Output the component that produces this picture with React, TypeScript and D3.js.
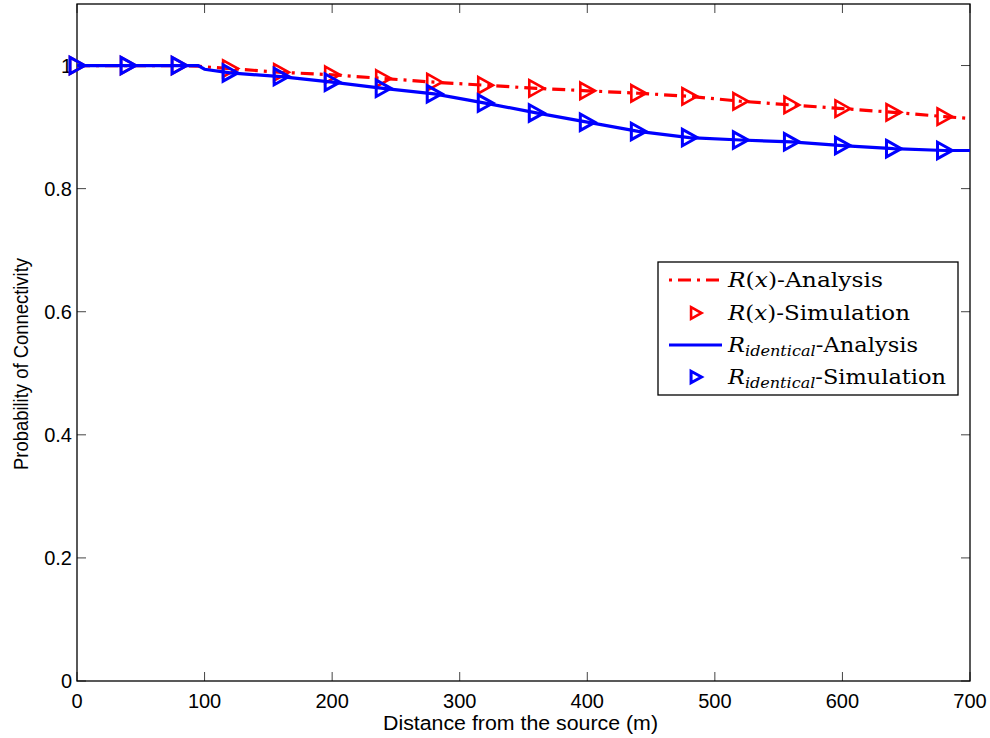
import React from "react";
import * as d3 from "d3";

// distances (m) for the simulation markers
const simX = [0, 40, 80, 120, 160, 200, 240, 280, 320, 360, 400, 440, 480, 520, 560, 600, 640, 680];
const redSim = [1, 1, 1, 0.995, 0.989, 0.985, 0.979, 0.973, 0.968, 0.963, 0.959, 0.955, 0.95, 0.942, 0.936, 0.93, 0.924, 0.917];
const blueSim = [1, 1, 1, 0.988, 0.982, 0.973, 0.963, 0.954, 0.939, 0.923, 0.908, 0.893, 0.883, 0.879, 0.876, 0.87, 0.865, 0.862];

// analysis curves
const anaX = [0, 40, 80, 95, 100, 120, 160, 200, 240, 280, 320, 360, 400, 440, 480, 520, 560, 600, 640, 680, 700];
const redAna = [1, 1, 1, 0.999, 0.998, 0.995, 0.989, 0.985, 0.979, 0.973, 0.968, 0.963, 0.959, 0.955, 0.95, 0.942, 0.936, 0.93, 0.924, 0.917, 0.914];
const blueAna = [1, 1, 1, 1, 0.994, 0.988, 0.982, 0.973, 0.963, 0.954, 0.939, 0.923, 0.908, 0.893, 0.883, 0.879, 0.876, 0.87, 0.865, 0.862, 0.862];

const xTicks = [0, 100, 200, 300, 400, 500, 600, 700];
const yTicks = [0, 0.2, 0.4, 0.6, 0.8, 1];

const W = 990, H = 738;
const L = 77, R = 970, T = 4, B = 681;

const RED = "#ff0000";
const BLUE = "#0000ff";

export default function App() {
  const x = d3.scaleLinear().domain([0, 700]).range([L, R]);
  const y = d3.scaleLinear().domain([0, 1.1]).range([B, T]);

  const line = d3.line<[number, number]>().x(d => x(d[0])).y(d => y(d[1]));
  const redPts = anaX.map((v, i) => [v, redAna[i]] as [number, number]);
  const bluePts = anaX.map((v, i) => [v, blueAna[i]] as [number, number]);

  // right pointing triangle
  const tri = (cx: number, cy: number, s = 8.2) =>
    `M${cx - s * 0.85},${cy - s} L${cx + s * 0.95},${cy} L${cx - s * 0.85},${cy + s} Z`;

  const tickFont = { fontFamily: "Liberation Sans, Arial, sans-serif", fontSize: 20 };
  const legFont = "DejaVu Serif, serif";

  const lx = 658, ly = 262, lw = 300, lh = 133;
  const rows = [280, 313, 345, 377];

  return (
    <svg width={W} height={H} style={{ position: "absolute", left: 0, top: 0 }}>
      <rect x={0} y={0} width={W} height={H} fill="#fff" />
      <defs>
        <clipPath id="plot">
          <rect x={L} y={T} width={R - L} height={B - T} />
        </clipPath>
      </defs>

      {/* ticks */}
      {xTicks.map(t => (
        <g key={"x" + t}>
          <line x1={x(t)} x2={x(t)} y1={B} y2={B - 9} stroke="#444" />
          <line x1={x(t)} x2={x(t)} y1={T} y2={T + 9} stroke="#444" />
          <text x={x(t)} y={708} textAnchor="middle" {...tickFont}>{t}</text>
        </g>
      ))}
      {yTicks.map(t => (
        <g key={"y" + t}>
          <line x1={L} x2={L + 9} y1={y(t)} y2={y(t)} stroke="#444" />
          <line x1={R} x2={R - 9} y1={y(t)} y2={y(t)} stroke="#444" />
          <text x={72} y={y(t) + 7} textAnchor="end" {...tickFont}>{t}</text>
        </g>
      ))}

      <rect x={L} y={T} width={R - L} height={B - T} fill="none" stroke="#000" strokeWidth={1.3} />

      {/* series */}
      <g clipPath="url(#plot)">
        <path d={line(redPts) || ""} fill="none" stroke={RED} strokeWidth={3.2} strokeDasharray="13 6 3 6" />
      </g>
      {simX.map((v, i) => (
        <path key={"r" + i} d={tri(x(v), y(redSim[i]))} fill="none" stroke={RED} strokeWidth={2.6} />
      ))}
      <g clipPath="url(#plot)">
        <path d={line(bluePts) || ""} fill="none" stroke={BLUE} strokeWidth={3.2} />
      </g>
      {simX.map((v, i) => (
        <path key={"b" + i} d={tri(x(v), y(blueSim[i]))} fill="none" stroke={BLUE} strokeWidth={3} />
      ))}

      {/* axis labels */}
      <text x={(L + R) / 2 - 3} y={730} textAnchor="middle" textLength={275} lengthAdjust="spacingAndGlyphs" {...tickFont}>
        Distance from the source (m)
      </text>
      <text transform={`translate(28,${364}) rotate(-90)`} textAnchor="middle" textLength={212} lengthAdjust="spacingAndGlyphs" {...tickFont}>
        Probability of Connectivity
      </text>

      {/* legend */}
      <rect x={lx} y={ly} width={lw} height={lh} fill="#fff" stroke="#000" strokeWidth={1.3} />
      <line x1={669} x2={722} y1={rows[0]} y2={rows[0]} stroke={RED} strokeWidth={3.2} strokeDasharray="13 6 3 6" strokeDashoffset={-9} />
      <path d={tri(696, rows[1], 5.8)} fill="none" stroke={RED} strokeWidth={2.6} />
      <line x1={669} x2={722} y1={rows[2]} y2={rows[2]} stroke={BLUE} strokeWidth={3.2} />
      <path d={tri(696, rows[3], 5.8)} fill="none" stroke={BLUE} strokeWidth={3} />

      <g fontFamily={legFont} fontSize={21}>
        <text x={728} y={rows[0] + 7} textLength={155} lengthAdjust="spacingAndGlyphs">
          <tspan fontStyle="italic">R</tspan>(<tspan fontStyle="italic">x</tspan>)-Analysis
        </text>
        <text x={728} y={rows[1] + 7} textLength={182} lengthAdjust="spacingAndGlyphs">
          <tspan fontStyle="italic">R</tspan>(<tspan fontStyle="italic">x</tspan>)-Simulation
        </text>
        <text x={728} y={rows[2] + 7} textLength={190} lengthAdjust="spacingAndGlyphs">
          <tspan fontStyle="italic">R</tspan>
          <tspan fontStyle="italic" fontSize={15} dy={4}>identical</tspan>
          <tspan dy={-4}>-Analysis</tspan>
        </text>
        <text x={728} y={rows[3] + 7} textLength={218} lengthAdjust="spacingAndGlyphs">
          <tspan fontStyle="italic">R</tspan>
          <tspan fontStyle="italic" fontSize={15} dy={4}>identical</tspan>
          <tspan dy={-4}>-Simulation</tspan>
        </text>
      </g>
    </svg>
  );
}
